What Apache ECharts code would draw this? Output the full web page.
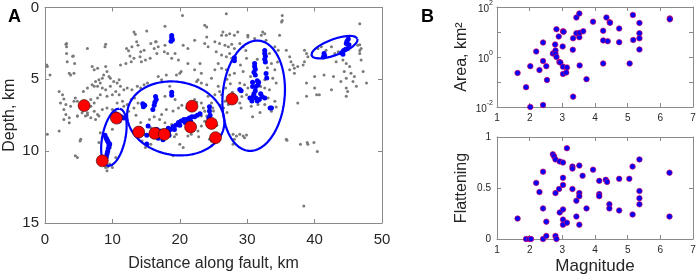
<!DOCTYPE html>
<html>
<head>
<meta charset="utf-8">
<script src="https://cdn.jsdelivr.net/npm/echarts@6/dist/echarts.min.js"></script>
<style>
  html, body { margin: 0; padding: 0; background: #fff; }
  #chart { width: 699px; height: 277px; }
</style>
</head>
<body>
<div id="chart"></div>
<script>
// panel A: background seismicity [distance km, depth km]
const grayPts = [
  [13.2,1.70],[13.4,1.86],[15.1,1.63],[9.0,2.55],[8.9,2.74],[6.3,2.85],[3.1,2.55],[3.2,2.74],[4.2,3.38],[3.3,3.77],
  [4.4,3.89],[12.1,2.85],[12.4,3.01],[12.9,2.74],[13.6,2.39],[13.8,2.62],[14.2,3.08],[14.7,2.97],[15.7,2.51],[16.4,2.39],
  [16.2,2.85],[16.6,3.20],[12.6,3.38],[12.8,3.77],[13.2,3.54],[14.1,3.43],[14.3,3.77],[14.9,3.66],[15.6,3.54],[11.2,4.0],
  [12.0,3.89],[0.35,4.11],[0.74,4.69],[3.6,4.57],[3.8,4.69],[4.3,4.57],[7.0,4.11],[7.3,4.34],[7.8,4.23],[9.0,4.11],
  [9.2,4.46],[8.7,4.69],[9.5,4.80],[9.7,4.92],[8.5,4.92],[8.0,5.03],[7.5,5.15],[8.2,5.26],[7.0,5.38],[7.3,5.49],
  [6.3,5.61],[5.7,5.84],[7.8,5.49],[8.5,5.61],[9.0,5.72],[9.7,5.49],[10.2,5.15],[10.7,5.26],[11.0,5.03],[11.2,5.49],
  [11.7,5.72],[12.2,5.61],[12.9,5.72],[13.7,5.49],[14.2,5.61],[14.7,5.38],[15.2,5.26],[10.5,5.84],[11.0,6.07],[10.0,6.07],
  [9.2,6.18],[8.2,6.07],[7.8,6.30],[6.8,6.41],[7.3,6.64],[2.1,5.84],[2.6,6.07],[2.8,6.37],[2.3,6.64],[3.1,6.76],
  [3.8,6.87],[4.3,6.53],[4.5,6.30],[4.8,6.53],[6.8,6.87],[7.3,7.22],[7.8,7.45],[6.3,7.33],[5.5,7.33],[6.0,7.56],
  [8.5,7.10],[9.2,6.99],[10.0,7.10],[10.7,6.64],[11.5,6.53],[11.7,6.87],[12.2,6.76],[12.8,6.41],[13.3,6.30],[13.8,6.64],
  [13.2,6.99],[12.4,7.22],[2.8,7.10],[3.1,7.45],[3.6,7.68],[4.8,7.56],
  [17.8,1.31],[16.5,2.39],[16.8,2.74],[17.8,2.62],[17.7,3.08],[18.2,3.20],[18.8,3.54],[19.8,3.66],[19.3,3.20],[20.5,2.62],
  [21.2,2.85],[22.2,2.28],[24.0,1.36],[24.0,2.05],[23.7,2.51],[24.2,2.74],[25.2,2.39],[25.4,3.08],[26.2,1.93],[26.4,1.70],
  [26.9,1.93],[27.4,1.82],[28.1,1.93],[28.6,1.70],[25.9,2.51],[26.7,2.62],[27.2,2.74],[27.7,2.55],[28.1,2.85],[28.9,2.51],
  [29.4,2.74],[30.1,2.05],[31.1,2.16],[32.1,1.93],[32.6,1.82],[29.9,3.54],[26.2,3.31],[26.9,3.43],[27.4,3.20],[27.7,3.54],
  [28.1,3.66],[25.7,3.89],[25.2,4.34],[26.2,4.23],[26.9,4.34],[27.4,4.69],[28.1,4.57],[29.4,4.46],[23.0,3.89],[23.2,4.57],
  [22.2,4.34],[21.2,3.89],[20.2,4.46],[19.5,4.69],[20.0,4.57],[22.5,5.15],[22.7,5.03],[23.2,5.26],[24.0,5.38],[24.7,4.92],
  [25.7,5.49],[25.9,5.84],[25.2,6.07],[26.2,6.07],[26.7,6.53],[27.2,6.76],[28.9,5.26],[29.6,5.38],[30.1,5.61],[29.9,6.07],
  [28.9,6.64],[29.1,6.99],[30.6,6.87],[31.6,6.76],[32.6,6.76],[32.6,5.03],[32.6,5.61],[16.8,4.80],[17.3,5.03],[18.0,4.69],
  [18.5,5.49],[17.8,6.18],[19.3,6.41],[19.8,6.99],[22.2,6.41],[23.2,6.64],[24.2,6.18],[24.7,6.64],[23.7,7.22],[24.4,7.33],
  [24.9,6.99],[23.2,7.56],[18.0,7.10],[17.3,7.45],
  [35.1,1.01],[34.8,1.93],[46.7,1.13],[34.1,2.74],[34.6,2.97],[35.8,2.97],[36.3,3.43],[36.5,3.77],[36.8,4.0],[37.0,4.23],
  [37.5,4.11],[36.3,4.34],[37.0,4.57],[38.5,2.97],[38.8,3.20],[39.0,3.43],[38.5,3.77],[38.3,4.0],[40.5,2.85],[41.0,2.74],
  [41.7,2.97],[42.5,2.74],[43.0,3.20],[43.5,3.08],[43.2,3.77],[44.2,3.66],[44.7,3.89],[45.2,4.11],[44.4,4.46],[45.4,4.57],
  [45.9,4.80],[45.7,5.15],[46.2,5.49],[46.7,3.20],[46.9,3.66],[47.2,4.46],[47.7,5.26],[46.9,2.85],[46.4,2.62],[44.7,4.92],
  [43.9,5.15],[38.8,5.26],[40.0,5.61],[40.3,6.07],[40.7,6.07],[42.5,5.72],[44.7,5.61],[44.9,5.84],[44.7,6.18],[38.8,6.18],
  [37.5,6.64],[32.8,2.28],[33.3,3.20],[33.6,3.89],[34.1,4.34],[33.8,4.92],[34.3,5.26],[33.3,5.72],[33.1,6.30],[34.1,6.53],
  [34.3,6.92],[33.6,7.22],[40.0,4.80],[41.4,4.69],[42.8,4.80],
  [0.35,8.83],[2.1,8.60],[2.8,7.79],[3.6,8.02],[4.8,7.56],[6.3,7.49],[6.8,7.68],[7.5,7.79],[8.0,7.56],[5.3,9.17],
  [5.2,9.29],[4.5,10.32],[4.8,10.44],[8.2,8.71],[8.5,9.06],[8.0,9.40],[10.0,8.48],[10.5,10.44],[9.7,9.75],[9.0,11.13],
  [9.2,11.36],[10.0,11.13],[14.7,8.83],[14.4,9.29],[14.9,9.75],[15.7,8.37],[16.1,9.06],[15.7,9.52],
  [17.0,7.79],[17.8,8.02],[18.8,8.14],[19.5,8.83],[20.0,9.52],[20.5,9.75],[19.0,10.32],[22.7,8.60],[23.2,8.25],[23.7,7.91],
  [24.0,7.56],[22.2,7.68],[24.4,9.17],[24.7,9.29],[27.9,8.83],[28.4,8.94],[28.9,8.83],[29.4,8.94],[29.6,9.06],[29.9,8.87],
  [27.9,9.52],[28.1,9.17],[24.7,9.63],[21.7,8.83],[21.2,8.94],
  [35.8,9.17],[35.9,9.24],[37.9,9.52],[38.9,9.40],[39.0,9.52],[39.9,9.40],[40.4,10.02],[38.4,13.82],
  [26.9,0.44],[35.2,0.55],[35.2,0.9],[20.4,0.55],[23.7,1.24],[30.1,1.93],[32.3,1.70],[46.7,2.6],[46.7,3.0],
  [0.25,4.0],[3.2,2.5],[3.2,3.2],[4.1,3.4],[8.9,11.0],[9.3,11.1],[9.6,10.9],
  [13.5,7.5],[14.2,8.0],[15.5,7.8],[16.2,7.6],[19.0,7.2],[20.3,6.8],[21.0,7.0],[22.5,6.6],[23.5,7.0],[14.0,9.0],
  [15.8,9.0],[19.2,9.0],[22.8,9.0],[25.0,7.2],[25.5,8.2],[26.0,6.8],
  [27.0,5.0],[27.5,5.3],[26.8,5.6],[27.8,5.9],[27.3,6.3],[26.5,7.0],[27.0,7.3],
  [29.0,4.0],[30.5,4.8],[31.5,3.6],[32.0,5.5],[29.2,6.2],[30.8,7.6],[31.9,7.3],[33.0,4.2],[34.5,3.8],[29.8,3.0],[31.0,6.0]
];

// panel A: clustered events (blue)
const bluePts = [
  [18.8,1.95],[18.8,2.1],[18.9,2.25],[18.7,2.35],
  [41.4,3.2],[41.5,3.35],[41.3,3.45],[44.0,3.15],[44.3,3.0],[44.6,2.9],[44.9,2.85],[44.2,3.25],[44.8,2.35],[45.0,2.2],[44.7,2.5],[45.1,2.6],
  [31.1,3.9],[31.1,4.1],[31.2,4.3],[31.0,4.5],[31.2,4.7],[32.6,3.0],[32.6,3.2],[32.7,3.4],[32.6,3.6],[32.7,3.8],
  [31.5,5.1],[31.7,5.2],[31.6,5.4],[31.3,5.5],[28.9,5.7],[29.1,5.8],
  [30.4,6.3],[30.9,6.2],[31.3,6.3],[31.8,6.4],[32.2,6.2],[32.6,6.3],[30.7,6.5],[31.5,6.5],[31.0,6.0],[32.0,6.0],
  [31.2,5.8],[32.8,4.6],[32.9,4.9],[28.1,3.5],[28.1,3.7],[33.6,7.0],[33.4,7.0],[30.8,5.2],[30.8,5.5],
  [14.5,6.7],[14.6,6.9],[14.8,6.8],[16.4,6.2],[16.5,6.4],[16.3,6.6],[16.2,6.8],[18.8,5.9],[18.8,6.1],[16.0,7.1],
  [24.4,6.9],[24.4,7.2],[24.5,7.5],[24.3,7.7],
  [17.8,8.9],[18.2,8.7],[18.6,8.5],[19.0,8.3],[19.4,8.2],[19.8,8.0],[20.2,7.9],[20.6,7.8],[21.0,7.8],[21.4,7.7],
  [21.8,7.6],[22.2,7.6],[22.6,7.5],[23.0,7.4],[18.4,8.9],[19.2,8.5],[20.0,8.2],[20.8,8.0],[21.6,7.9],[17.5,9.2],
  [16.6,8.5],[17.0,8.6],[17.2,9.0],[16.8,9.1],[18.3,8.4],[15.3,8.25],[15.1,8.9],[15.1,9.5],[16.5,8.83],[18.3,8.7],
  [10.5,7.4],[10.9,7.5],[11.3,7.6],[11.7,7.7],[11.0,7.9],
  [9.2,9.2],[9.4,9.4],[9.5,9.6],[9.4,9.8],[9.3,10.0],[9.2,10.2],[9.1,10.4],[9.0,10.6],[9.6,9.5],
  [8.9,8.9],[9.1,9.1],[9.3,9.3]
];

// panel A: largest events (red)
const redPts = [
  [5.8,6.83],[10.6,7.7],[8.5,10.67],[13.9,8.67],[16.3,8.76],[17.7,8.83],
  [21.8,6.87],[21.6,8.32],[24.7,8.07],[25.3,9.06],[27.75,6.37]
];

// cluster ellipses: centre [km, depth], semi-axes (px), tilt (deg, screen)
const ellipseCentre = [[10.22,9.03],[19.4,7.72],[30.96,6.14],[42.96,2.76]];
const ellipseAxes = [[29.5,11.5],[49,37],[56,31],[24.5,8]];
const ellipseTilt = [-78.3,10,-84.8,-20.5];

// panel B
const areaMag = [1.63,1.89,2.02,2.02,2.20,2.30,2.41,2.41,2.41,2.51,2.53,2.71,2.78,2.79,2.79,2.82,2.82,2.89,2.91,2.94,
  3.02,3.04,3.01,3.02,3.02,3.14,3.12,3.32,3.33,3.33,3.43,3.43,3.52,3.52,3.53,3.53,3.64,3.74,3.94,4.25,
  4.25,4.25,4.35,4.39,4.45,4.46,4.74,4.74,5.06,5.17,5.16,5.36,5.36,5.36,5.36,6.29,6.29];
const areaVal = [0.23,0.062,0.43,0.01,1.66,0.30,3.8,0.69,0.012,0.43,0.12,1.38,3.16,1.82,1.35,12.9,1.0,6.6,0.63,0.60,
  10.7,10.2,2.63,0.41,0.21,0.38,0.24,1.95,5.6,0.026,38,8.9,55,6.2,9.3,0.46,10.7,0.13,26,11.2,
  4.6,0.55,38,4.3,24.5,23.4,13.8,3.9,0.55,4.8,48,23,8.9,5.6,2.0,35,32];
const flatMag = [1.63,1.89,1.99,2.04,2.20,2.30,2.41,2.41,2.41,2.51,2.51,2.71,2.75,2.79,2.79,2.79,2.82,2.90,2.92,2.92,
  3.02,3.02,3.02,3.02,3.02,3.02,3.14,3.14,3.31,3.31,3.31,3.43,3.43,3.52,3.52,3.52,3.52,3.62,3.74,3.94,
  4.13,4.13,4.13,4.33,4.37,4.44,4.44,4.74,4.74,5.05,5.15,5.15,5.36,5.36,5.36,5.36,6.28,6.28];
const flatVal = [0.20,0.0,0.0,0.0,0.55,0.46,0.66,0.30,0.0,0.17,0.03,0.83,0.81,0.78,0.45,0.03,0.0,0.49,0.76,0.26,
  0.75,0.60,0.53,0.29,0.19,0.14,0.16,0.89,0.71,0.69,0.49,0.375,0.22,0.72,0.45,0.42,0.14,0.62,0.30,0.68,
  0.57,0.44,0.42,0.58,0.56,0.34,0.30,0.59,0.28,0.59,0.71,0.24,0.78,0.47,0.40,0.34,0.65,0.22];

const font = 'Liberation Sans, Arial, sans-serif';
const txt = '#262626';
const boxCol = '#8a8a8a';

// grid A size, used to turn ellipse pixel radii into data units
const gA = {left: 45, top: 7, width: 337, height: 218};
const kmPerPx = 50 / gA.width;
const depthPerPx = 15 / gA.height;

function ellipse(i) {
  const pts = [];
  const th = ellipseTilt[i] * Math.PI / 180;
  const a = ellipseAxes[i][0], b = ellipseAxes[i][1];
  for (let k = 0; k <= 120; k++) {
    const t = k / 120 * 2 * Math.PI;
    const sx = a * Math.cos(t) * Math.cos(th) - b * Math.sin(t) * Math.sin(th);
    const sy = a * Math.cos(t) * Math.sin(th) + b * Math.sin(t) * Math.cos(th);
    pts.push([ellipseCentre[i][0] + sx * kmPerPx, ellipseCentre[i][1] + sy * depthPerPx]);
  }
  return pts;
}

function boxAxis(grid, pos, extra) {
  return Object.assign({
    gridIndex: grid, position: pos,
    axisLine: {show: true, onZero: false, lineStyle: {color: boxCol, width: 1}},
    axisTick: {show: true, inside: true, length: 4, lineStyle: {color: boxCol}},
    axisLabel: {show: false},
    splitLine: {show: false}
  }, extra);
}

function mainAxis(grid, pos, extra, labelSize, margin) {
  return boxAxis(grid, pos, Object.assign({
    axisLabel: {show: true, color: txt, fontFamily: font, fontSize: labelSize, margin: margin || 6},
    nameTextStyle: {color: txt, fontFamily: font, fontSize: 16},
    nameLocation: 'middle'
  }, extra));
}

const logLabel = {
  show: true, color: txt, fontFamily: font, margin: 4,
  formatter: function (v) {
    const e = Math.round(Math.log10(v));
    if (e % 2 !== 0) return '';
    return '{b|10}{s|' + e + '}';
  },
  rich: {
    b: {fontSize: 10, color: txt, fontFamily: font, lineHeight: 14, verticalAlign: 'bottom'},
    s: {fontSize: 7, color: txt, fontFamily: font, lineHeight: 7, verticalAlign: 'top'}
  }
};

const chart = echarts.init(document.getElementById('chart'), null, {renderer: 'canvas'});

const option = {
  animation: false,
  backgroundColor: '#fff',
  title: [
    {text: 'A', left: 3, top: 3, textStyle: {fontFamily: font, fontSize: 18, fontWeight: 'bold', color: '#000'}},
    {text: 'B', left: 416, top: 3, textStyle: {fontFamily: font, fontSize: 18, fontWeight: 'bold', color: '#000'}}
  ],
  grid: [
    Object.assign({show: false}, gA),
    {left: 497, top: 6, width: 196, height: 101},
    {left: 497, top: 137, width: 196, height: 102}
  ],
  xAxis: [
    mainAxis(0, 'bottom', {type: 'value', min: 0, max: 50, interval: 10,
      name: 'Distance along fault, km', nameGap: 33}, 15, 9),
    boxAxis(0, 'top', {type: 'value', min: 0, max: 50, interval: 10}),
    mainAxis(1, 'bottom', {type: 'value', min: 1, max: 7, interval: 1}, 10),
    boxAxis(1, 'top', {type: 'value', min: 1, max: 7, interval: 1}),
    mainAxis(2, 'bottom', {type: 'value', min: 1, max: 7, interval: 1,
      name: 'Magnitude', nameGap: 19, nameTextStyle: {color: txt, fontFamily: font, fontSize: 17}}, 10),
    boxAxis(2, 'top', {type: 'value', min: 1, max: 7, interval: 1})
  ],
  yAxis: [
    mainAxis(0, 'left', {type: 'value', inverse: true, min: 0, max: 15, interval: 5,
      name: 'Depth, km', nameGap: 27}, 15),
    boxAxis(0, 'right', {type: 'value', inverse: true, min: 0, max: 15, interval: 5}),
    mainAxis(1, 'left', {type: 'log', logBase: 10, min: 0.01, max: 100, splitNumber: 4,
      name: 'Area, km²', nameGap: 27, axisLabel: logLabel}, 10),
    boxAxis(1, 'right', {type: 'log', logBase: 10, min: 0.01, max: 100, splitNumber: 4}),
    mainAxis(2, 'left', {type: 'value', min: 0, max: 1, interval: 0.5,
      name: 'Flattening', nameGap: 27}, 10),
    boxAxis(2, 'right', {type: 'value', min: 0, max: 1, interval: 0.5})
  ],
  series: [
    {type: 'scatter', xAxisIndex: 0, yAxisIndex: 0, data: grayPts, symbolSize: 3,
      itemStyle: {color: '#7a7a7a', opacity: 1}, z: 1},
    {type: 'scatter', xAxisIndex: 0, yAxisIndex: 0, data: bluePts, symbolSize: 5,
      itemStyle: {color: '#0000ff', opacity: 1}, z: 2}
  ].concat(ellipseCentre.map(function (c, i) {
    return {type: 'line', xAxisIndex: 0, yAxisIndex: 0, data: ellipse(i), showSymbol: false,
      lineStyle: {color: '#0000ff', width: 2.2}, z: 3};
  })).concat([
    {type: 'scatter', xAxisIndex: 0, yAxisIndex: 0, data: redPts, symbolSize: 12,
      itemStyle: {color: '#ff0000', borderColor: '#300000', borderWidth: 0.6, opacity: 1}, z: 4},
    {type: 'scatter', xAxisIndex: 2, yAxisIndex: 2,
      data: areaMag.map(function (m, i) { return [m, areaVal[i]]; }), symbolSize: 5.5,
      itemStyle: {color: '#0000ff', borderColor: '#d0005a', borderWidth: 0.7, opacity: 1}},
    {type: 'scatter', xAxisIndex: 4, yAxisIndex: 4,
      data: flatMag.map(function (m, i) { return [m, flatVal[i]]; }), symbolSize: 5.5,
      itemStyle: {color: '#0000ff', borderColor: '#d0005a', borderWidth: 0.7, opacity: 1}}
  ])
};

chart.setOption(option);
</script>
</body>
</html>
